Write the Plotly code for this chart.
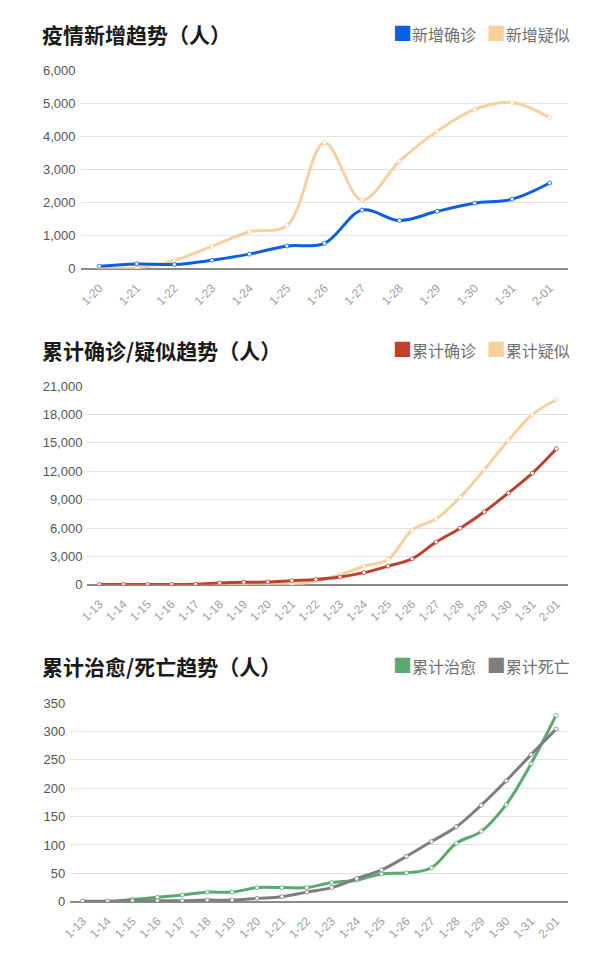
import plotly.graph_objects as go
from plotly.subplots import make_subplots

# 新增（1-20 ~ 2-01）
days_new = ["1-20", "1-21", "1-22", "1-23", "1-24", "1-25", "1-26",
            "1-27", "1-28", "1-29", "1-30", "1-31", "2-01"]
new_confirmed = [77, 149, 131, 259, 444, 688, 769, 1771, 1459, 1737, 1982, 2102, 2590]
new_suspected = [27, 26, 257, 680, 1118, 1309, 3806, 2077, 3248, 4148, 4812, 5019, 4562]

# 累计（1-13 ~ 2-01）
days_total = ["1-13", "1-14", "1-15", "1-16", "1-17", "1-18", "1-19", "1-20",
              "1-21", "1-22", "1-23", "1-24", "1-25", "1-26", "1-27", "1-28",
              "1-29", "1-30", "1-31", "2-01"]
total_confirmed = [41, 41, 41, 45, 62, 198, 275, 291, 440, 571, 830, 1287, 1975,
                   2744, 4515, 5974, 7711, 9692, 11791, 14380]
total_suspected = [0, 0, 0, 0, 0, 0, 0, 0, 37, 393, 1072, 1965, 2684,
                   5794, 6973, 9239, 12167, 15238, 17988, 19544]
total_cured = [0, 0, 4, 8, 12, 17, 17, 25, 25, 25, 34, 38, 49,
               51, 60, 103, 124, 171, 243, 328]
total_dead = [1, 1, 2, 2, 2, 3, 3, 6, 9, 17, 25, 41, 56,
              80, 106, 132, 170, 213, 259, 304]

titles = ["疫情新增趋势（人）", "累计确诊/疑似趋势（人）", "累计治愈/死亡趋势（人）"]

BLUE = "#0b5fe3"
BEIGE = "#f6d09e"
RED = "#c0402e"
GREEN = "#5aa96d"
GRAY = "#7e7e80"

W, H = 601, 960
CN = "Noto Sans CJK SC"
NUM = "Liberation Sans, Arial, sans-serif"

fig = make_subplots(rows=3, cols=1)

# 每个图：横轴、系列、纵轴最大值、刻度间隔、绘图区左/上/下（像素）、标题中心
charts = [
    (days_new, [("新增确诊", new_confirmed, BLUE), ("新增疑似", new_suspected, BEIGE)],
     6000, 1000, 73.5, 64, 266, 27),
    (days_total, [("累计确诊", total_confirmed, RED), ("累计疑似", total_suspected, BEIGE)],
     21000, 3000, 80.5, 385, 587, 348),
    (days_total, [("累计治愈", total_cured, GREEN), ("累计死亡", total_dead, GRAY)],
     350, 50, 63, 707, 909, 669),
]
RIGHT = 568

layout = {}
for i, (days, series, ymax, dtick, left, top, bottom, ty) in enumerate(charts):
    row = i + 1
    # 疑似先画，确诊后画（压在上面）
    order = series[::-1] if i < 2 else series
    for name, vals, col in order:
        fig.add_trace(go.Scatter(
            x=days, y=vals, mode="lines+markers", name=name,
            line=dict(color=col, width=3, shape="spline", smoothing=1),
            marker=dict(size=4, color="white", line=dict(color=col, width=0.8)),
            showlegend=False, hoverinfo="x+y",
        ), row=row, col=1)

    sfx = "" if row == 1 else str(row)
    layout["xaxis" + sfx] = dict(
        domain=[left / W, RIGHT / W], type="category",
        range=[-0.5, len(days) - 0.5],
        tickangle=-45, tickfont=dict(family=NUM, size=12, color="#a0a0a0"),
        ticklabelstandoff=9,
        showgrid=False, showline=False, ticks="", fixedrange=True,
    )
    layout["yaxis" + sfx] = dict(
        domain=[1 - bottom / H, 1 - top / H], range=[0, ymax], dtick=dtick,
        tickformat=",d", tickfont=dict(family=NUM, size=13, color="#555555"),
        ticklabelstandoff=4,
        showgrid=True, gridcolor="#e2e2e2", gridwidth=1,
        zeroline=True, zerolinecolor="#8a8a8a", zerolinewidth=1.5,
        ticks="", fixedrange=True,
    )

    # 标题
    fig.add_annotation(
        text="<b>" + titles[i] + "</b>", xref="paper", yref="paper",
        x=32 / W, y=1 - ty / H, xanchor="left", yanchor="middle",
        showarrow=False, font=dict(family=CN, size=21, color="#1a1a1a"),
    )
    # 图例（方块 + 文字）
    parts = []
    for name, vals, col in series:
        parts.append("<span style='color:%s;font-size:19px'>■</span>%s" % (col, name))
    fig.add_annotation(
        text="&nbsp;&nbsp;&nbsp;".join(parts), xref="paper", yref="paper",
        x=572 / W, y=1 - (ty - 1) / H, xanchor="right", yanchor="middle",
        showarrow=False, font=dict(family=CN, size=16, color="#707070"),
    )

fig.update_layout(**layout)

fig.update_layout(
    width=W, height=H, margin=dict(l=0, r=0, t=0, b=0),
    paper_bgcolor="white", plot_bgcolor="white",
    font=dict(family=CN),
    showlegend=False,
    hovermode="closest",
)

page_css = ("document.body.style.margin='0';"
            "document.body.style.overflow='hidden';"
            "document.documentElement.style.overflow='hidden';")
fig.write_html("out.html", config={"displayModeBar": False}, post_script=page_css)
